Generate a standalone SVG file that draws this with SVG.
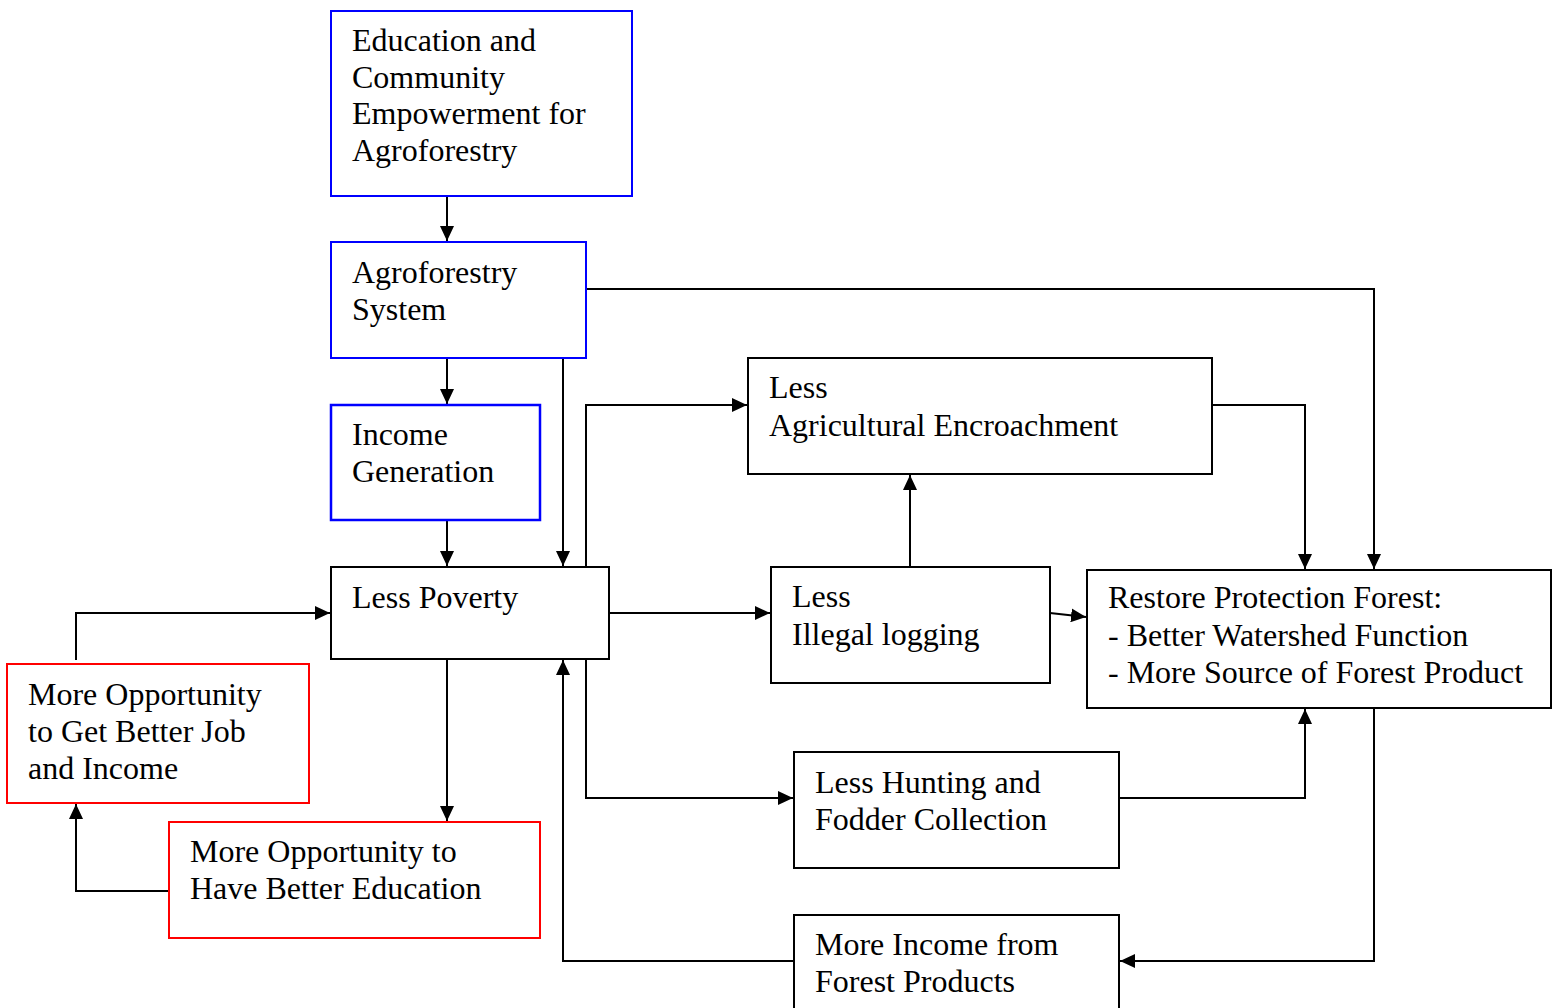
<svg xmlns="http://www.w3.org/2000/svg" width="1558" height="1008" viewBox="0 0 1558 1008">
<style>
.box{fill:#fff;stroke:#000;stroke-width:2}
.blue{stroke:#0000ff}
.red{stroke:#ff0000}
text{font-family:"Liberation Serif","Times New Roman",serif;font-size:32px;fill:#000}
.c{fill:none;stroke:#000;stroke-width:2}
</style>
<defs>
<marker id="ah" markerUnits="userSpaceOnUse" markerWidth="16" markerHeight="14" refX="15" refY="7" orient="auto">
<path d="M0,0 L15,7 L0,14 Z" fill="#000"/>
</marker>
</defs>
<rect width="1558" height="1008" fill="#fff"/>
<g id="connectors">
<path class="c" d="M447,196 V241" marker-end="url(#ah)"/>
<path class="c" d="M447,358 V404" marker-end="url(#ah)"/>
<path class="c" d="M563,358 V566" marker-end="url(#ah)"/>
<path class="c" d="M586,289 H1374 V569" marker-end="url(#ah)"/>
<path class="c" d="M447,520 V566" marker-end="url(#ah)"/>
<path class="c" d="M586,567 V405 H747" marker-end="url(#ah)"/>
<path class="c" d="M609,613 H770" marker-end="url(#ah)"/>
<path class="c" d="M586,659 V798 H793" marker-end="url(#ah)"/>
<path class="c" d="M447,659 V821" marker-end="url(#ah)"/>
<path class="c" d="M169,891 H76 V804" marker-end="url(#ah)"/>
<path class="c" d="M76,660 V613 H330" marker-end="url(#ah)"/>
<path class="c" d="M910,567 V475" marker-end="url(#ah)"/>
<path class="c" d="M1050,613 L1086,617" marker-end="url(#ah)"/>
<path class="c" d="M1212,405 H1305 V569" marker-end="url(#ah)"/>
<path class="c" d="M1119,798 H1305 V709" marker-end="url(#ah)"/>
<path class="c" d="M1374,706 V961 H1120" marker-end="url(#ah)"/>
<path class="c" d="M794,961 H563 V660" marker-end="url(#ah)"/>
</g>
<g id="edu">
<rect class="box blue" x="331" y="11" width="301" height="185"/>
<text x="352" y="51">Education and</text>
<text x="352" y="88">Community</text>
<text x="352" y="124">Empowerment for</text>
<text x="352" y="161">Agroforestry</text>
</g>
<g id="agro">
<rect class="box blue" x="331" y="242" width="255" height="116"/>
<text x="352" y="283">Agroforestry</text>
<text x="352" y="320">System</text>
</g>
<g id="income">
<rect class="box blue" x="331" y="405" width="209" height="115" style="stroke-width:2.5"/>
<text x="352" y="445">Income</text>
<text x="352" y="482">Generation</text>
</g>
<g id="poverty">
<rect class="box" x="331" y="567" width="278" height="92"/>
<text x="352" y="608">Less Poverty</text>
</g>
<g id="agri">
<rect class="box" x="748" y="358" width="464" height="116"/>
<text x="769" y="398">Less</text>
<text x="769" y="436">Agricultural Encroachment</text>
</g>
<g id="logging">
<rect class="box" x="771" y="567" width="279" height="116"/>
<text x="792" y="607">Less</text>
<text x="792" y="645">Illegal logging</text>
</g>
<g id="restore">
<rect class="box" x="1087" y="570" width="464" height="138"/>
<text x="1108" y="608">Restore Protection Forest:</text>
<text x="1108" y="646">- Better Watershed Function</text>
<text x="1108" y="683">- More Source of Forest Product</text>
</g>
<g id="hunting">
<rect class="box" x="794" y="752" width="325" height="116"/>
<text x="815" y="793">Less Hunting and</text>
<text x="815" y="830">Fodder Collection</text>
</g>
<g id="forestincome">
<rect class="box" x="794" y="915" width="325" height="110"/>
<text x="815" y="955">More Income from</text>
<text x="815" y="992">Forest Products</text>
</g>
<g id="job">
<rect class="box red" x="7" y="664" width="302" height="139"/>
<text x="28" y="705">More Opportunity</text>
<text x="28" y="742">to Get Better Job</text>
<text x="28" y="779">and Income</text>
</g>
<g id="education">
<rect class="box red" x="169" y="822" width="371" height="116"/>
<text x="190" y="862">More Opportunity to</text>
<text x="190" y="899">Have Better Education</text>
</g>
</svg>
